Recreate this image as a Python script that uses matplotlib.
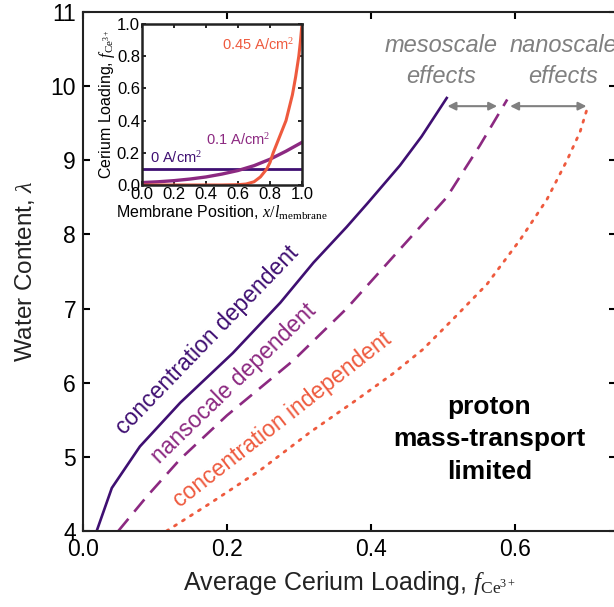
import matplotlib
matplotlib.use('Agg')
import matplotlib.pyplot as plt

plt.rcParams['font.family'] = ['Liberation Sans', 'DejaVu Sans']
plt.rcParams['mathtext.fontset'] = 'custom'
plt.rcParams['mathtext.rm'] = 'Liberation Serif'
plt.rcParams['mathtext.it'] = 'Liberation Serif:italic'

# main curves: average cerium loading vs water content
conc_dep_x = [0.019, 0.040, 0.079, 0.135, 0.208, 0.274, 0.320, 0.366, 0.395, 0.440, 0.470, 0.505]
conc_dep_y = [4.0, 4.58, 5.14, 5.73, 6.40, 7.08, 7.62, 8.10, 8.42, 8.93, 9.32, 9.84]

nano_dep_x = [0.049, 0.089, 0.135, 0.200, 0.292, 0.366, 0.440, 0.505, 0.551, 0.589]
nano_dep_y = [4.0, 4.47, 4.97, 5.56, 6.30, 7.00, 7.80, 8.50, 9.20, 9.82]

conc_indep_x = [0.116, 0.176, 0.246, 0.315, 0.380, 0.430, 0.472, 0.514, 0.561, 0.607, 0.644, 0.672, 0.690, 0.701]
conc_indep_y = [4.0, 4.37, 4.82, 5.33, 5.77, 6.12, 6.45, 6.86, 7.33, 7.93, 8.47, 9.00, 9.38, 9.73]

# inset: local cerium loading across the membrane
pos = [0.0, 0.1, 0.2, 0.3, 0.4, 0.5, 0.6, 0.7, 0.8, 0.9, 1.0]
load_0 = [0.1] * len(pos)
load_01 = [0.015, 0.02, 0.027, 0.037, 0.05, 0.068, 0.09, 0.12, 0.16, 0.21, 0.265]
pos_045 = [0.0, 0.5, 0.6, 0.65, 0.7, 0.74, 0.78, 0.8, 0.82, 0.84, 0.86, 0.88, 0.9,
           0.92, 0.94, 0.96, 0.98, 0.99, 1.0]
load_045 = [0.0, 0.0, 0.002, 0.006, 0.02, 0.05, 0.1, 0.14, 0.2, 0.25, 0.3, 0.35, 0.4,
            0.48, 0.56, 0.67, 0.8, 0.89, 1.0]

c_purple = '#3f0f72'
c_magenta = '#8c2981'
c_orange = '#ee5a3e'
c_gray = '#808080'

fig = plt.figure(figsize=(6.14, 6.07), dpi=100)
ax = fig.add_axes([83/614, 1 - 531/607, 533/614, 519/607])

ax.plot(conc_dep_x, conc_dep_y, color=c_purple, lw=1.9)
ax.plot(nano_dep_x, nano_dep_y, color=c_magenta, lw=1.9, dashes=(6, 3.5))
ax.plot(conc_indep_x, conc_indep_y, color=c_orange, lw=2.0, dashes=(0.8, 2.6), dash_capstyle='round')

ax.set_xlim(0, 0.74)
ax.set_ylim(4, 11)
ax.set_xticks([0.0, 0.2, 0.4, 0.6])
ax.set_xticklabels(['0.0', '0.2', '0.4', '0.6'])
ax.set_yticks(range(4, 12))
ax.tick_params(direction='in', length=5, width=1.5, labelsize=16.5, top=True, right=True, pad=5)
for s in ax.spines.values():
    s.set_linewidth(1.5)
    s.set_color('#222222')

ax.set_xlabel(r'Average Cerium Loading, $f_{\mathrm{Ce}^{3+}}$', fontsize=18, color='#222222', labelpad=6)
ax.set_ylabel(r'Water Content, $\lambda$', fontsize=17.5, color='#222222', labelpad=10)

# curve labels
ax.text(0.172, 6.57, 'concentration dependent', color=c_purple, fontsize=16.5,
        rotation=46, ha='center', va='center', rotation_mode='anchor')
ax.text(0.210, 5.99, 'nansocale dependent', color=c_magenta, fontsize=16.5,
        rotation=44, ha='center', va='center', rotation_mode='anchor')
ax.text(0.277, 5.50, 'concentration independent', color=c_orange, fontsize=16.5,
        rotation=38, ha='center', va='center', rotation_mode='anchor')

ax.text(0.564, 5.24, 'proton\nmass-transport\nlimited', fontsize=19, fontweight='bold',
        ha='center', va='center', linespacing=1.45)

# effect arrows
ax.annotate('', xy=(0.506, 9.73), xytext=(0.575, 9.73),
            arrowprops=dict(arrowstyle='<|-|>', color=c_gray, lw=1.5, mutation_scale=12,
                            shrinkA=0, shrinkB=0))
ax.annotate('', xy=(0.593, 9.73), xytext=(0.699, 9.73),
            arrowprops=dict(arrowstyle='<|-|>', color=c_gray, lw=1.5, mutation_scale=12,
                            shrinkA=0, shrinkB=0))
ax.text(0.497, 10.34, 'mesoscale\neffects', color=c_gray, fontsize=17, style='italic',
        ha='center', va='center', linespacing=1.4)
ax.text(0.667, 10.34, 'nanoscale\neffects', color=c_gray, fontsize=17, style='italic',
        ha='center', va='center', linespacing=1.4)

# inset
ins = fig.add_axes([142/614, 1 - 185/607, 160/614, 161/607])
ins.plot(pos, load_0, color=c_purple, lw=2)
ins.plot(pos, load_01, color=c_magenta, lw=2.4)
ins.plot(pos_045, load_045, color=c_orange, lw=2.2)
ins.set_xlim(0, 1)
ins.set_ylim(0, 1)
ins.set_xticks([0, 0.2, 0.4, 0.6, 0.8, 1.0])
ins.set_yticks([0, 0.2, 0.4, 0.6, 0.8, 1.0])
ins.set_xticklabels(['0.0', '0.2', '0.4', '0.6', '0.8', '1.0'])
ins.set_yticklabels(['0.0', '0.2', '0.4', '0.6', '0.8', '1.0'])
ins.tick_params(direction='in', length=3, width=1.2, labelsize=12, top=True, right=True, pad=1.5)
for s in ins.spines.values():
    s.set_linewidth(1.8)
    s.set_color('#222222')
ins.set_xlabel(r'Membrane Position, $x/l_{\mathrm{membrane}}$', fontsize=11.5, labelpad=1)
ins.set_ylabel(r'Cerium Loading, $f_{\mathrm{Ce}^{3+}}$', fontsize=11.5, labelpad=0)
ins.text(0.725, 0.87, r'0.45 A/cm$^2$', color=c_orange, fontsize=10.5, ha='center', va='center')
ins.text(0.6, 0.28, r'0.1 A/cm$^2$', color=c_magenta, fontsize=10.5, ha='center', va='center')
ins.text(0.215, 0.165, r'0 A/cm$^2$', color=c_purple, fontsize=10.5, ha='center', va='center')

fig.savefig('out.png', dpi=100)
